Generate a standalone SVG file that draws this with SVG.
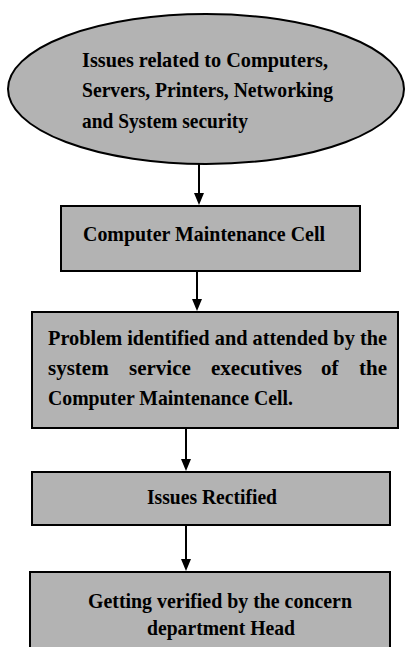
<svg xmlns="http://www.w3.org/2000/svg" width="405" height="647" viewBox="0 0 405 647">
<style>
.shape{fill:#b3b3b3;stroke:#000;stroke-width:2}
.t{font-family:'Liberation Serif','DejaVu Serif','Times New Roman',serif;font-weight:bold;font-size:21px;fill:#000}
.c{stroke:#000;stroke-width:2;fill:none}
.h{fill:#000}
</style>
<rect width="405" height="647" fill="#fff"/>
<g id="connectors">
<line class="c" x1="199" y1="164" x2="199" y2="193"/>
<path class="h" d="M194,193 L204,193 L199,205 Z"/>
<line class="c" x1="197" y1="271" x2="197" y2="299"/>
<path class="h" d="M192,299 L202,299 L197,311 Z"/>
<line class="c" x1="186" y1="428" x2="186" y2="459"/>
<path class="h" d="M181,459 L191,459 L186,471 Z"/>
<line class="c" x1="186" y1="525" x2="186" y2="559"/>
<path class="h" d="M181,559 L191,559 L186,571 Z"/>
</g>
<g id="n1">
<ellipse class="shape" cx="206" cy="89" rx="198" ry="75"/>
<text class="t" x="82" y="67" textLength="246" lengthAdjust="spacingAndGlyphs">Issues related to Computers,</text>
<text class="t" x="82" y="97" textLength="251" lengthAdjust="spacingAndGlyphs">Servers, Printers, Networking</text>
<text class="t" x="82" y="128" textLength="166" lengthAdjust="spacingAndGlyphs">and System security</text>
</g>
<g id="n2">
<rect class="shape" x="61" y="206" width="299" height="65"/>
<text class="t" x="83" y="241" textLength="242" lengthAdjust="spacingAndGlyphs">Computer Maintenance Cell</text>
</g>
<g id="n3">
<rect class="shape" x="32" y="312" width="366" height="116"/>
<text class="t" x="48" y="345" textLength="339" lengthAdjust="spacingAndGlyphs">Problem identified and attended by the</text>
<text class="t" x="48" y="375">system</text>
<text class="t" x="129" y="375">service</text>
<text class="t" x="211" y="375">executives</text>
<text class="t" x="321" y="375">of</text>
<text class="t" x="387" y="375" text-anchor="end">the</text>
<text class="t" x="48" y="405" textLength="245" lengthAdjust="spacingAndGlyphs">Computer Maintenance Cell.</text>
</g>
<g id="n4">
<rect class="shape" x="32" y="472" width="358" height="53"/>
<text class="t" x="147" y="504" textLength="130" lengthAdjust="spacingAndGlyphs">Issues Rectified</text>
</g>
<g id="n5">
<rect class="shape" x="30" y="572" width="360" height="80"/>
<text class="t" x="88" y="608" textLength="264" lengthAdjust="spacingAndGlyphs">Getting verified by the concern</text>
<text class="t" x="147" y="635" textLength="148" lengthAdjust="spacingAndGlyphs">department Head</text>
</g>
</svg>
